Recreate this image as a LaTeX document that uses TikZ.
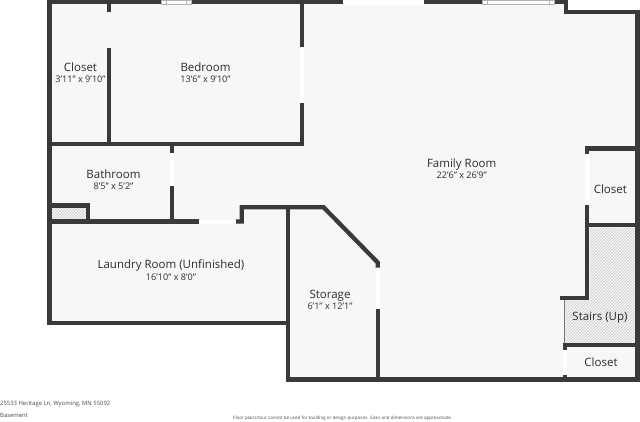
\documentclass[tikz,border=0pt]{standalone}
\usepackage{fontspec}
\setmainfont{Open Sans}
\usetikzlibrary{patterns}
\definecolor{wallc}{HTML}{3A3A3A}
\definecolor{floorc}{HTML}{F7F7F7}
\definecolor{textc}{HTML}{2B2B2B}
\tikzstyle{wl}=[draw=wallc,line width=4.3pt,line cap=butt,line join=miter]
\tikzstyle{thinwl}=[draw=wallc,line width=3.4pt,line cap=butt]
\tikzstyle{dr}=[fill=white,draw=none]
\tikzstyle{win}=[fill=white,draw=black!30,line width=.5pt]
\tikzstyle{ht}=[pattern=north east lines,pattern color=black!22,draw=none]
\tikzstyle{rm}=[inner sep=0pt,text=textc,font=\fontsize{11.5}{13}\selectfont]
\tikzstyle{dm}=[inner sep=0pt,text=textc,font=\fontsize{9.1}{11}\selectfont]
\tikzstyle{ft}=[inner sep=0pt,anchor=west,text=textc!85,font=\fontsize{5.9}{7}\selectfont]
\tikzstyle{fts}=[inner sep=0pt,anchor=west,text=textc!85,font=\fontsize{4.5}{6}\selectfont]

\begin{document}
\begin{tikzpicture}[x=1pt,y=-1pt]
\useasboundingbox[fill=white] (0,0) rectangle (640,421);
\fill[floorc] (49.5,2.5) -- (566,2.5) -- (566,11.7) -- (637.3,11.7) -- (637.3,379.3) -- (288.3,379.3) -- (288.3,323) -- (49.5,323) -- cycle;
\fill[ht] (51.7,207.7) rectangle (85.7,219.3);
\fill[ht] (589.7,227.7) -- (635,227.7) -- (635,343) -- (565,343) -- (565,300.3) -- (589.7,300.3) -- cycle;
\draw[wl] (49.5,0) -- (49.5,325);
\draw[wl] (47.3,2.3) -- (161,2.3);
\draw[wl] (191,2.3) -- (343.3,2.3);
\draw[wl] (424.3,2.3) -- (482.3,2.3);
\draw[wl] (554,2.3) -- (566.3,2.3) -- (566.3,11.7) -- (639.7,11.7);
\draw[wl] (637.4,9.5) -- (637.4,381.7);
\draw[wl] (286,379.4) -- (639.7,379.4);
\draw[wl] (109.3,4) -- (109.3,12);
\draw[wl] (109.3,48) -- (109.3,144);
\draw[wl] (302,2) -- (302,47);
\draw[wl] (302,102.5) -- (302,144.2) -- (49.5,144.2);
\draw[wl] (172,146) -- (172,153);
\draw[wl] (172,185.5) -- (172,221);
\draw[wl] (49.5,221.5) -- (199,221.5);
\draw[wl] (235.7,221.5) -- (241.7,221.5) -- (241.7,207.2) -- (323.5,207.2) -- (377.7,262.5) -- (377.7,267.7);
\draw[wl] (377.7,309.3) -- (377.7,379);
\draw[wl] (288.3,207) -- (288.3,381);
\draw[thinwl] (49.5,323) -- (288,323);
\draw[wl] (49.5,205.5) -- (88,205.5) -- (88,221);
\draw[wl] (585,148.5) -- (637,148.5);
\draw[wl] (587.3,146.3) -- (587.3,154);
\draw[wl] (587.3,205) -- (587.3,298) -- (560,298);
\draw[wl] (589,225.3) -- (637,225.3);
\draw[wl] (562.7,345.3) -- (637,345.3);
\draw[wl] (565,345) -- (565,350);
\draw[wl] (565,375.3) -- (565,379);
\draw[draw=wallc!70,line width=.8pt] (564.6,300) -- (564.6,343);
\fill[dr] (300,47) rectangle (304,102.5);
\fill[dr] (170,153) rectangle (174,185.5);
\fill[dr] (199,219.5) rectangle (235.7,223.5);
\fill[dr] (375.6,267.7) rectangle (379.8,309.3);
\fill[dr] (343.3,0) rectangle (424.3,4.5);
\fill[dr] (585.2,154) rectangle (589.5,205);
\fill[dr] (562.9,350) rectangle (567.1,375.3);
\draw[win] (161,.4) rectangle (191,4.5);
\draw[win] (166,.4) rectangle (186,4.5);
\draw[win] (482.3,.4) rectangle (554,4.5);
\draw[win] (487.5,.4) rectangle (549,4.5);
\node[rm] (closetA) at (80.5,67) {Closet};
\node[dm] (closetAd) at (80.5,79.5) {3'11" x 9'10"};
\node[rm] (bedroom) at (205.5,67) {Bedroom};
\node[dm] (bedroomd) at (205.5,79.5) {13'6" x 9'10"};
\node[rm] (bathroom) at (113.5,174) {Bathroom};
\node[dm] (bathroomd) at (113.5,186.5) {8'5" x 5'2"};
\node[rm] (family) at (461.7,165) {Family Room};
\node[dm] (familyd) at (461.7,175.7) {22'6" x 26'9"};
\node[rm] (closetB) at (610.3,188.8) {Closet};
\node[rm] (laundry) at (171,265) {Laundry Room (Unfinished)};
\node[dm] (laundryd) at (171,277) {16'10" x 8'0"};
\node[rm] (storage) at (330,296) {Storage};
\node[dm] (storaged) at (330,306.5) {6'1" x 12'1"};
\node[rm] (stairs) at (600,318) {Stairs (Up)};
\node[rm] (closetC) at (601,362) {Closet};
\node[ft] (address) at (0,404.3) {25533 Heritage Ln, Wyoming, MN 55092};
\node[ft] (level) at (0,415.8) {Basement};
\node[fts] (note) at (233,418) {Floor plans/tour cannot be used for building or design purposes. Sizes and dimensions are approximate.};
\end{tikzpicture}
\end{document}
